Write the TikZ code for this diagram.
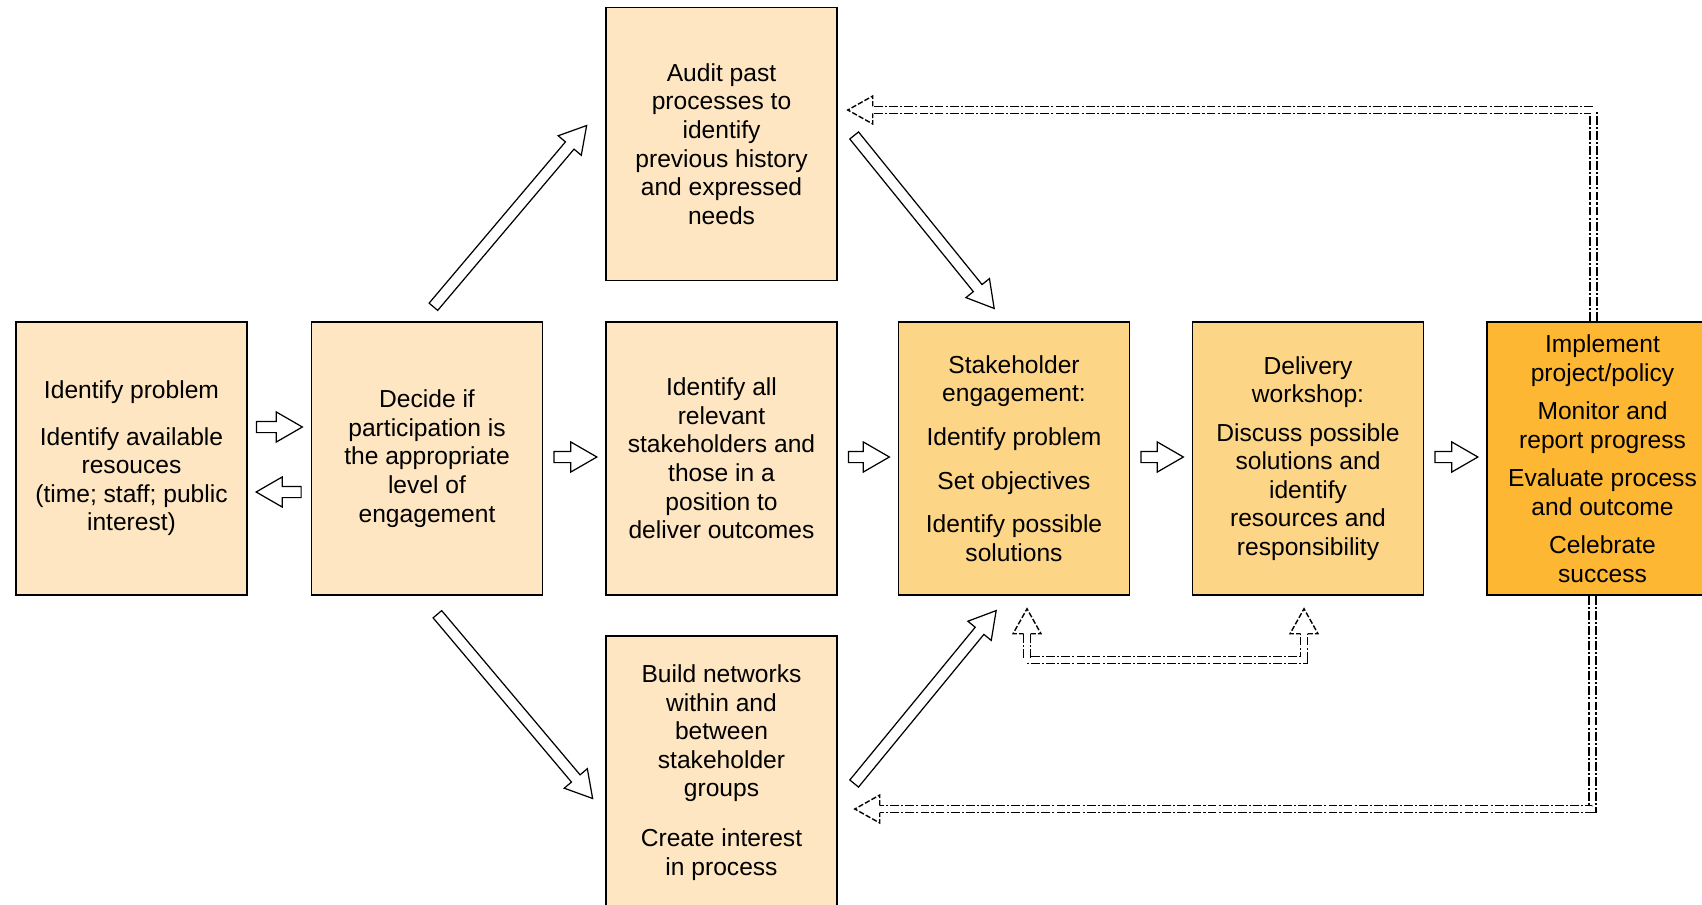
\documentclass[tikz,border=0pt]{standalone}
\usepackage{fontspec}
\setmainfont{Liberation Sans}
\usetikzlibrary{calc,shapes.arrows}

\definecolor{peach}{HTML}{FDE6C1}
\definecolor{amber}{HTML}{FDD587}
\definecolor{gold}{HTML}{FDB733}

% hollow block arrow from tail coordinate #1 to tip coordinate #2
\newcommand{\hollowarrow}[2]{%
  \path let \p1=($(#2)-(#1)$), \n1={atan2(\y1,\x1)}, \n2={veclen(\x1,\y1)} in
    node[harrow, minimum height=\n2, rotate=\n1, anchor=tail] at (#1) {};}

\begin{document}
\begin{tikzpicture}[
    x=0.02cm,
    y=-0.02cm,
    box/.style={draw, line width=0.9pt, minimum width=4.62cm, minimum height=5.46cm,
      inner sep=2pt, align=center, font=\fontsize{14}{16.3}\selectfont},
    harrow/.style={single arrow, draw, fill=white, line width=0.7pt,
      inner xsep=0pt, inner ysep=0.1cm, single arrow head extend=0.19cm,
      single arrow tip angle=60},
    fbline/.style={line width=0.8pt, double=white, double distance=0.11cm,
      dash pattern=on 5pt off 1.2pt on 1.2pt off 1.2pt},
    fbhead/.pic={\draw[line width=0.8pt, dash pattern=on 3pt off 1.2pt]
      (-25,3.5) -- (-25,14) -- (0,0) -- (-25,-14) -- (-25,-3.5);}
  ]
    \useasboundingbox (0,0) rectangle (1702,905);

    % boxes
    \node[box, fill=peach] (prob) at (131.5,458.5)
      {Identify problem\\[10pt]Identify available\\resouces\\(time; staff; public\\interest)};
    \node[box, fill=peach] (decide) at (427,458.5)
      {Decide if\\participation is\\the appropriate\\level of\\engagement};
    \node[box, fill=peach] (audit) at (721.5,144)
      {Audit past\\processes to\\identify\\previous history\\and expressed\\needs};
    \node[box, fill=peach] (ident) at (721.5,458.5)
      {Identify all\\relevant\\stakeholders and\\those in a\\position to\\deliver outcomes};
    \node[box, fill=peach] (build) at (721.5,772.5)
      {Build networks\\within and\\between\\stakeholder\\groups\\[12pt]Create interest\\in process};
    \node[box, fill=amber] (stake) at (1014,458.5)
      {Stakeholder\\engagement:\\[8.5pt]Identify problem\\[8.5pt]Set objectives\\[8.5pt]Identify possible\\solutions};
    \node[box, fill=amber] (deliv) at (1308,458.5)
      {Delivery\\workshop:\\[5.5pt]Discuss possible\\solutions and\\identify\\resources and\\responsibility};
    \node[box, fill=gold] (impl) at (1602.5,458.5)
      {Implement\\project/policy\\[5.5pt]Monitor and\\report progress\\[5.5pt]Evaluate process\\and outcome\\[5.5pt]Celebrate\\success};

    % block arrows, middle row
    \coordinate (h1s) at ($(prob.east)+(8,-31.5)$);
    \coordinate (h1e) at ($(decide.west)+(-9,-31.5)$);
    \coordinate (h2s) at ($(decide.west)+(-9,33.5)$);
    \coordinate (h2e) at ($(prob.east)+(9,33.5)$);
    \coordinate (h3s) at ($(decide.east)+(10,-1.5)$);
    \coordinate (h3e) at ($(ident.west)+(-9,-1.5)$);
    \coordinate (h4s) at ($(ident.east)+(10,-1.5)$);
    \coordinate (h4e) at ($(stake.west)+(-9,-1.5)$);
    \coordinate (h5s) at ($(stake.east)+(10,-1.5)$);
    \coordinate (h5e) at ($(deliv.west)+(-9,-1.5)$);
    \coordinate (h6s) at ($(deliv.east)+(10,-1.5)$);
    \coordinate (h6e) at ($(impl.west)+(-9,-1.5)$);
    \hollowarrow{h1s}{h1e}
    \hollowarrow{h2s}{h2e}
    \hollowarrow{h3s}{h3e}
    \hollowarrow{h4s}{h4e}
    \hollowarrow{h5s}{h5e}
    \hollowarrow{h6s}{h6e}

    % block arrows, diagonals
    \coordinate (d1s) at ($(decide.north)+(6,-14)$);
    \coordinate (d1e) at ($(audit.west)+(-19,-18)$);
    \coordinate (d2s) at ($(audit.east)+(16,-9)$);
    \coordinate (d2e) at ($(stake.north)+(-20,-13)$);
    \coordinate (d3s) at ($(decide.south)+(10,18)$);
    \coordinate (d3e) at ($(build.west)+(-13,25.5)$);
    \coordinate (d4s) at ($(build.east)+(16,11.5)$);
    \coordinate (d4e) at ($(stake.south)+(-18,15)$);
    \hollowarrow{d1s}{d1e}
    \hollowarrow{d2s}{d2e}
    \hollowarrow{d3s}{d3e}
    \hollowarrow{d4s}{d4e}

    % feedback loops
    \coordinate (fb1) at ($(audit.east)+(10,-34)$);
    \coordinate (fb2) at ($(build.east)+(17,36.5)$);
    \coordinate (fb3) at ($(stake.south)+(13,13)$);
    \coordinate (fb4) at ($(deliv.south)+(-4,13)$);
    \draw[fbline] ($(impl.north)+(-9,0)$) |- ($(fb1)+(25,0)$);
    \draw[fbline] ($(impl.south)+(-10,0)$) |- ($(fb2)+(25,0)$);
    \draw[fbline] ($(fb3)+(0,25)$) |- ($(fb4)+(0,51)$) -- ($(fb4)+(0,25)$);
    \pic[rotate=180] at (fb1) {fbhead};
    \pic[rotate=180] at (fb2) {fbhead};
    \pic[rotate=90] at (fb3) {fbhead};
    \pic[rotate=90] at (fb4) {fbhead};
  \end{tikzpicture}
\end{document}
